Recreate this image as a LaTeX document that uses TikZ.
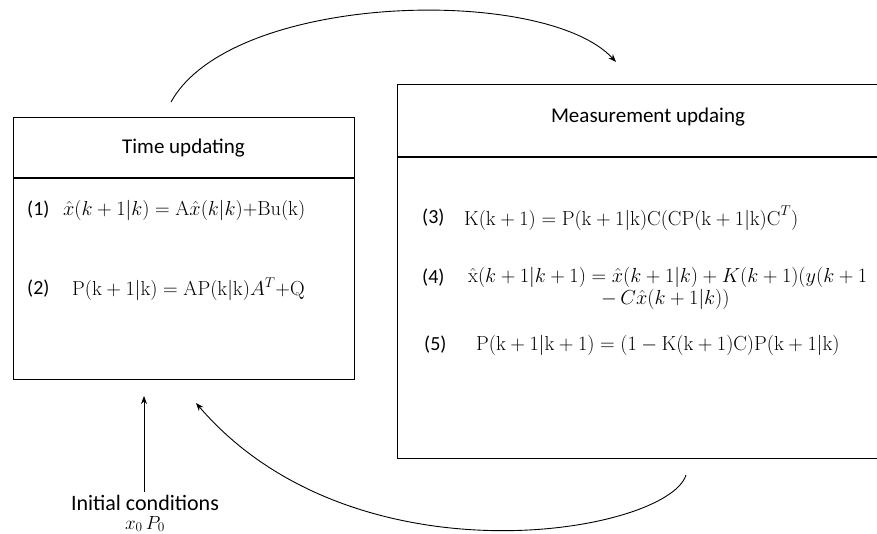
\RequirePackage{fix-cm}
\documentclass[tikz,border=0pt]{standalone}
\usepackage{amsmath}
\usepackage[no-math]{fontspec}
\setmainfont{Carlito}
\usetikzlibrary{arrows.meta}
\begin{document}
\begin{tikzpicture}[x=1pt,y=-1pt,
  box/.style={draw,line width=1.2pt,rectangle,inner sep=0pt,anchor=north west},
  divider/.style={line width=1.2pt},
  title/.style={font=\fontsize{21}{25}\selectfont,inner sep=0pt},
  eqlabel/.style={font=\fontsize{20}{24}\selectfont,inner sep=0pt,anchor=west},
  eq/.style={font=\fontsize{20.3}{24}\selectfont,inner sep=0pt,anchor=west},
  flow/.style={line width=0.9pt,-{Stealth[length=8pt,width=6pt]}},
  note/.style={font=\fontsize{22}{26}\selectfont,inner sep=0pt}]
\useasboundingbox (0,0) rectangle (877,533);
\clip (0,0) rectangle (877,533);

% time update block
\node[box,minimum width=341pt,minimum height=262pt] (tu) at (13,117) {};
\draw[divider] (13,178) -- (354,178);
\node[title] (tut) at (183.5,148) {Time updating};
\node[eqlabel] (l1) at (27,210) {(1)};
\node[eq] (e1) at (63,210) {$\hat{x}(k+1|k)=\mathrm{A}\hat{x}(k|k){+}\mathrm{Bu(k)}$};
\node[eqlabel] (l2) at (27,289) {(2)};
\node[eq] (e2) at (72,289) {$\mathrm{P(k+1|k)}=\mathrm{AP(k|k)}A^{T}{+}\mathrm{Q}$};

% measurement update block
\node[box,minimum width=520pt,minimum height=374pt] (mu) at (397,84) {};
\draw[divider] (397,157) -- (900,157);
\node[title] (mut) at (648,117) {Measurement updaing};
\node[eqlabel] (l3) at (422,218) {(3)};
\node[eq] (e3) at (464,218) {$\mathrm{K(k+1)}=\mathrm{P(k+1|k)C(CP(k+1|k)C}^{T})$};
\node[eqlabel] (l4) at (422,278) {(4)};
\node[eq] (e4) at (468,277) {$\mathrm{\hat{x}}(k+1|k+1)=\hat{x}(k+1|k)+K(k+1)(y(k+1$};
\node[eq] (e4b) at (601,299) {$-\,C\hat{x}(k+1|k))$};
\node[eqlabel] (l5) at (424,345) {(5)};
\node[eq] (e5) at (476,345) {$\mathrm{P(k+1|k+1)}=(1-\mathrm{K(k+1)C)P(k+1|k)}$};

% initial conditions
\node[note] (ic) at (145,503) {Initial conditions};
\node[font=\fontsize{19}{22}\selectfont,inner sep=0pt] (ic0) at (145,524) {$x_0\,P_0$};

% connector ends
\coordinate (tuOut) at (171,102);
\coordinate (muIn) at (616,62);
\coordinate (muOut) at (686,475);
\coordinate (tuIn) at (196,403);
\coordinate (icOut) at (144,492);
\coordinate (icIn) at (144,396);

\draw[flow] (tuOut) .. controls (232,-8) and (545,-15) .. (muIn);
\draw[flow] (muOut) .. controls (668,533) and (355,588) .. (tuIn);
\draw[flow] (icOut) -- (icIn);
\end{tikzpicture}
\end{document}
